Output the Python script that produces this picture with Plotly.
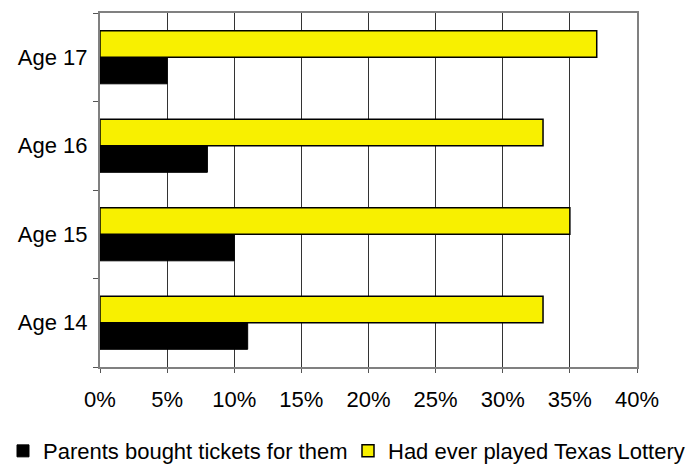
import plotly.graph_objects as go

categories = ["Age 14", "Age 15", "Age 16", "Age 17"]
parents_bought = [0.11, 0.10, 0.08, 0.05]
ever_played = [0.33, 0.35, 0.33, 0.37]
x_ticks = [0, 0.05, 0.10, 0.15, 0.20, 0.25, 0.30, 0.35, 0.40]
x_tick_labels = ["0%", "5%", "10%", "15%", "20%", "25%", "30%", "35%", "40%"]

fig = go.Figure()
fig.add_trace(go.Bar(
    y=categories, x=parents_bought, orientation="h",
    name="Parents bought tickets for them", legend="legend",
    marker=dict(color="#000000", line=dict(color="#000000", width=1)),
))
fig.add_trace(go.Bar(
    y=categories, x=ever_played, orientation="h",
    name="Had ever played Texas Lottery", legend="legend2",
    marker=dict(color="#F8F000", line=dict(color="#000000", width=1.5)),
))

legend_common = dict(orientation="h", xref="container", yref="container",
                     xanchor="left", yanchor="middle", y=0.03,
                     font=dict(size=22), itemwidth=30,
                     bgcolor="rgba(0,0,0,0)")

fig.update_layout(
    width=698, height=465,
    margin=dict(l=100, r=61, t=13, b=98, autoexpand=False),
    barmode="group", bargap=0.4, bargroupgap=0,
    plot_bgcolor="white", paper_bgcolor="white",
    font=dict(family="Liberation Sans, Arial, sans-serif", size=22, color="black"),
    showlegend=True,
    legend=dict(legend_common, x=3 / 698),
    legend2=dict(legend_common, x=348 / 698),
)
fig.update_xaxes(
    range=[0, 0.40], tickvals=x_ticks, ticktext=x_tick_labels,
    showgrid=True, gridcolor="#333333", gridwidth=1,
    ticks="outside", ticklen=4, tickcolor="#555555",
    ticklabelstandoff=8,
    showline=True, linecolor="#808080", linewidth=2, mirror=True,
    zeroline=False, automargin=False,
)
fig.update_yaxes(
    categoryorder="array", categoryarray=categories,
    tickson="boundaries", ticks="outside", ticklen=5, tickcolor="#555555",
    showline=True, linecolor="#808080", linewidth=2, mirror=True,
    showgrid=False, ticksuffix=" ", automargin=False,
)

fig.write_html("out.html", post_script="document.body.style.margin='0';",
               config={"displayModeBar": False})
